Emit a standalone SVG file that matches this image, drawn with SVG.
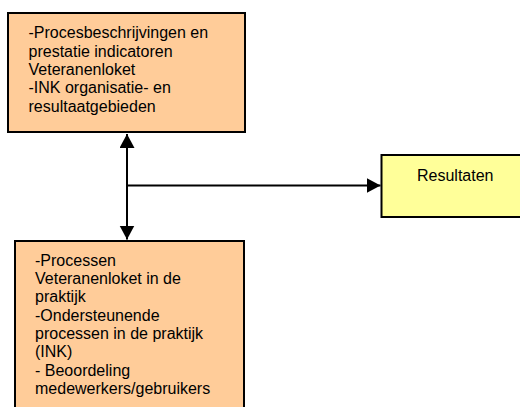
<svg xmlns="http://www.w3.org/2000/svg" width="520" height="407" viewBox="0 0 520 407">
<style>
.box{stroke:#000;stroke-width:2}
.orange{fill:#FFCC99}
.yellow{fill:#FFFF99}
text{font-family:"Liberation Sans",Arial,sans-serif;font-size:16px;fill:#000}
.conn{stroke:#000;stroke-width:2;fill:none}
</style>
<defs>
<marker id="arr" markerUnits="userSpaceOnUse" markerWidth="15" markerHeight="16" refX="14" refY="7.5" orient="auto-start-reverse" viewBox="0 0 15 16">
<path d="M0,0 L14,7.5 L0,15 z" fill="#000"/>
</marker>
</defs>
<rect width="520" height="407" fill="#fff"/>
<g id="connectors">
<line class="conn" x1="127" y1="134" x2="127" y2="239.5" marker-start="url(#arr)" marker-end="url(#arr)"/>
<line class="conn" x1="127" y1="185.5" x2="380.5" y2="185.5" marker-end="url(#arr)"/>
</g>
<g id="node-top">
<rect class="box orange" x="8" y="13" width="237" height="119"/>
<text x="28.5" y="38.3">-Procesbeschrijvingen en</text>
<text x="28.5" y="56.6">prestatie indicatoren</text>
<text x="28.5" y="74.9">Veteranenloket</text>
<text x="28.5" y="93.2">-INK organisatie- en</text>
<text x="28.5" y="111.5">resultaatgebieden</text>
</g>
<g id="node-bottom">
<rect class="box orange" x="15" y="241" width="229" height="180"/>
<text x="35" y="265.8">-Processen</text>
<text x="35" y="284.1">Veteranenloket in de</text>
<text x="35" y="302.4">praktijk</text>
<text x="35" y="320.7">-Ondersteunende</text>
<text x="35" y="339">processen in de praktijk</text>
<text x="35" y="357.3">(INK)</text>
<text x="35" y="375.6">- Beoordeling</text>
<text x="35" y="393.9">medewerkers/gebruikers</text>
</g>
<g id="node-resultaten">
<rect class="box yellow" x="381.5" y="155" width="150" height="62"/>
<text x="417" y="180.7">Resultaten</text>
</g>
</svg>
